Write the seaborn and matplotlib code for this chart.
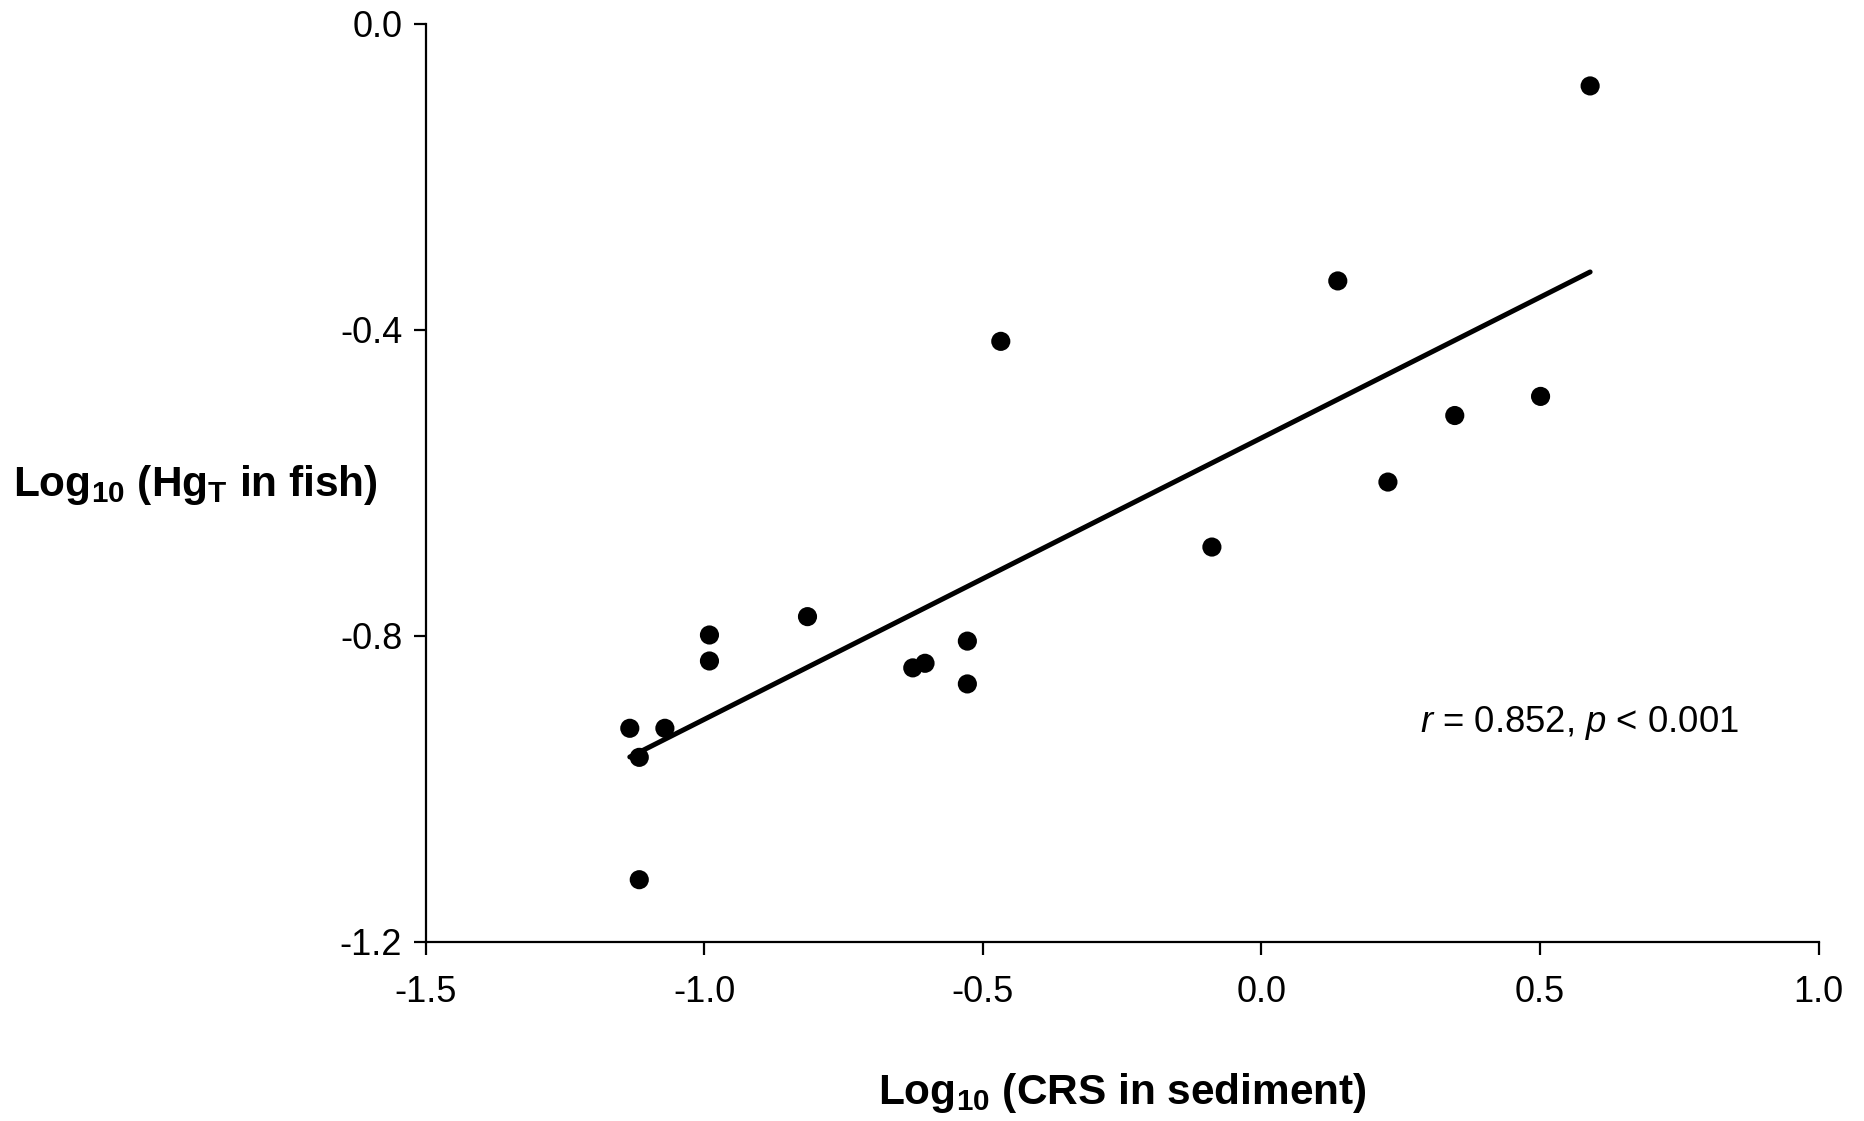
import seaborn as sns
import matplotlib.pyplot as plt
import pandas as pd

# values
log_crs = [0.590, 0.137, -0.468, 0.501, 0.347, 0.227, -0.089, -0.815, -0.991,
           -0.991, -0.528, -0.626, -0.604, -0.528, -1.134, -1.071, -1.117, -1.117]
log_hg = [-0.081, -0.336, -0.415, -0.487, -0.512, -0.599, -0.684, -0.775, -0.799,
          -0.833, -0.807, -0.842, -0.836, -0.863, -0.921, -0.921, -0.959, -1.119]
x_ticks = [-1.5, -1.0, -0.5, 0.0, 0.5, 1.0]
y_ticks = [0.0, -0.4, -0.8, -1.2]

df = pd.DataFrame({'crs': log_crs, 'hg': log_hg})

sns.set_style('ticks')
plt.rcParams['font.family'] = ['Liberation Sans', 'DejaVu Sans']
plt.rcParams['mathtext.fontset'] = 'custom'
plt.rcParams['mathtext.rm'] = 'Liberation Sans'
plt.rcParams['mathtext.it'] = 'Liberation Sans:italic'
plt.rcParams['mathtext.bf'] = 'Liberation Sans:bold'
plt.rcParams['text.color'] = 'black'
plt.rcParams['axes.labelcolor'] = 'black'
plt.rcParams['xtick.color'] = 'black'
plt.rcParams['ytick.color'] = 'black'

fig = plt.figure(figsize=(18.64, 11.21), dpi=100)
ax = fig.add_axes([0.2285, 0.16, 0.7471, 0.8186])

sns.regplot(data=df, x='crs', y='hg', ax=ax, ci=None, truncate=True,
            scatter_kws={'s': 190, 'color': 'black', 'edgecolor': 'none', 'alpha': 1},
            line_kws={'color': 'black', 'linewidth': 3.6})

ax.set_xlim(-1.5, 1.0)
ax.set_ylim(-1.2, 0.0)
ax.set_xticks(x_ticks)
ax.set_yticks(y_ticks)
ax.set_xticklabels([f'{v:.1f}' for v in x_ticks])
ax.set_yticklabels([f'{v:.1f}' for v in y_ticks])
sns.despine(ax=ax)
for s in ['left', 'bottom']:
    ax.spines[s].set_linewidth(1.6)
    ax.spines[s].set_color('black')
ax.tick_params(axis='both', labelsize=26, length=9, width=1.6, color='black',
               labelcolor='black')
ax.tick_params(axis='x', pad=15)
ax.tick_params(axis='y', pad=8)

ax.set_xlabel(r'$\mathbf{Log_{10}\ (CRS\ in\ sediment)}$', fontsize=30.5, labelpad=44,
              color='black')
ax.set_ylabel('')
fig.text(13 / 1864, 1 - 485 / 1121, r'$\mathbf{Log_{10}\ (Hg_{T}\ in\ fish)}$',
         fontsize=30.5, ha='left', va='center', color='black')

ax.text(0.285, -0.914, r'$\it{r}$ = 0.852, $\it{p}$ < 0.001', fontsize=26.3,
        ha='left', va='center', color='black')

plt.savefig('out.png', dpi=100)
